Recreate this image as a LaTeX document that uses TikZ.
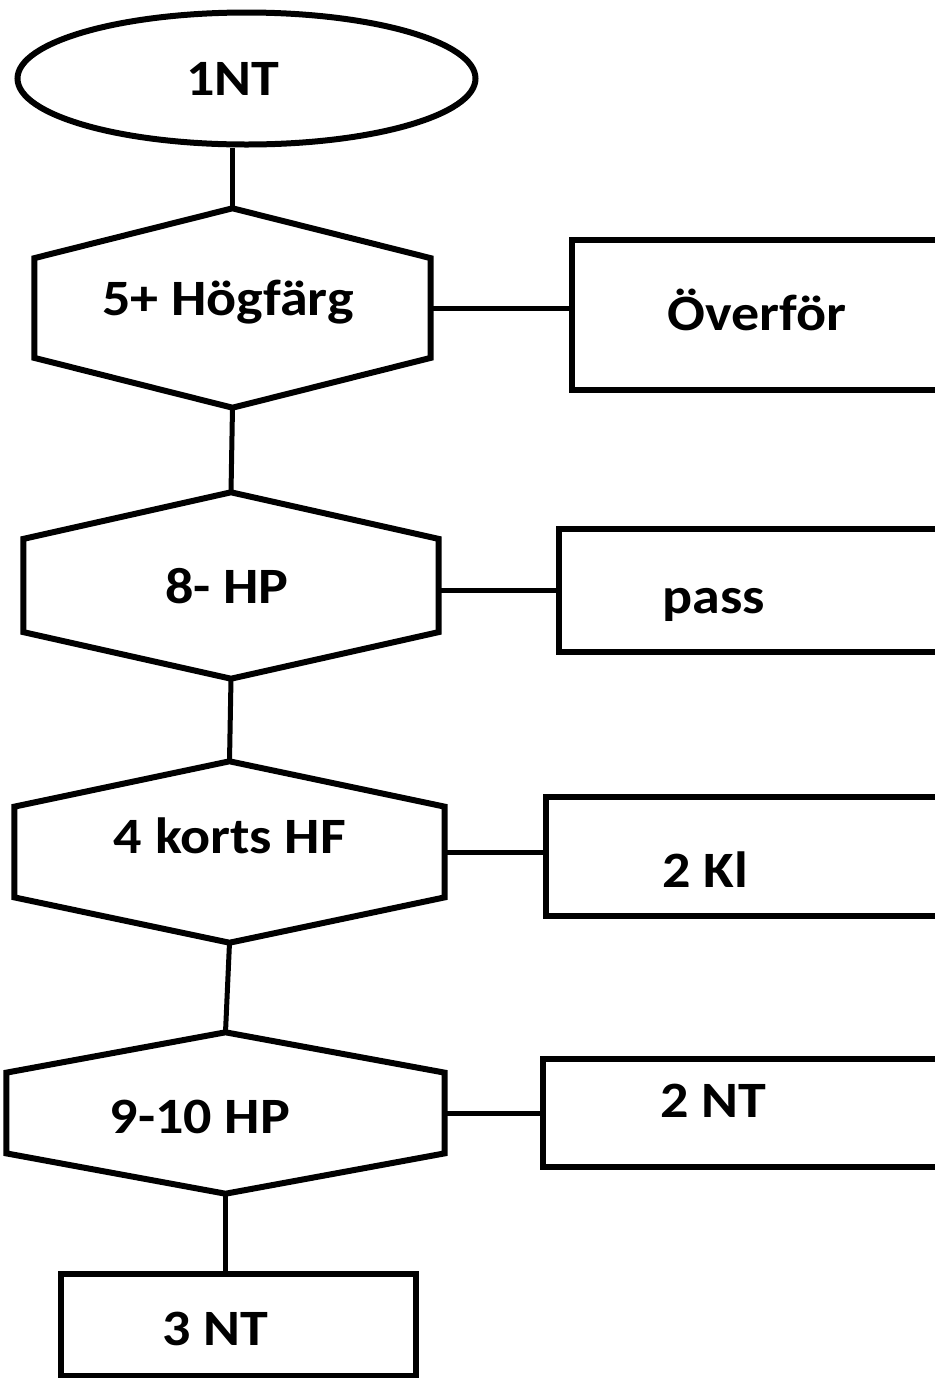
\documentclass[tikz,border=0pt]{standalone}
\usepackage{fontspec}
\setmainfont{Carlito}[FakeStretch=1.1]
\usetikzlibrary{positioning,calc,shapes.geometric}
\newcommand{\hexpath}[1]{%
  \draw[shp] (#1.north) -- ($(#1.north east)!0.25!(#1.south east)$)
    -- ($(#1.north east)!0.75!(#1.south east)$) -- (#1.south)
    -- ($(#1.north west)!0.75!(#1.south west)$)
    -- ($(#1.north west)!0.25!(#1.south west)$) -- cycle;}
\tikzset{
  shp/.style={line width=0.6mm, line join=miter},
  hexa/.style={rectangle, inner sep=0pt},
  oval/.style={ellipse, draw, line width=0.6mm, inner sep=0pt},
  bbox/.style={rectangle, draw, line width=0.65mm, inner sep=0pt},
  lbl/.style={font=\bfseries\fontsize{14.5}{16}\selectfont, anchor=base, inner sep=0pt},
  cn/.style={line width=0.5mm},
}

\begin{document}
\begin{tikzpicture}[x=0.1mm,y=-0.1mm]
\useasboundingbox (0,0) rectangle (935,1378);
% start
\node[oval, minimum width=45.8mm, minimum height=13.2mm] (e) at (246.5,78.5) {};
% questions
\node[hexa, minimum width=39.5mm, minimum height=19.8mm] (h1) at (232.5,308) {};
\node[hexa, minimum width=41.4mm, minimum height=18.5mm] (h2) at (231,585.5) {};
\node[hexa, minimum width=42.9mm, minimum height=18mm] (h3) at (229.5,852) {};
\node[hexa, minimum width=43.7mm, minimum height=16mm] (h4) at (225.5,1113) {};
\hexpath{h1} \hexpath{h2} \hexpath{h3} \hexpath{h4}
% answers
\node[bbox, minimum width=38.8mm, minimum height=15mm] (b1) at (766,315) {};
\node[bbox, minimum width=40.1mm, minimum height=12.3mm] (b2) at (759.5,590.5) {};
\node[bbox, minimum width=41.4mm, minimum height=11.9mm] (b3) at (753,856.5) {};
\node[bbox, minimum width=41.7mm, minimum height=10.8mm] (b4) at (751.5,1113) {};
\node[bbox, minimum width=35.5mm, minimum height=10.2mm] (b5) at (238.5,1325) {};
% texts
\node[lbl] (t0) at (233,95) {1NT};
\node[lbl] (t1) at (228,315) {5+ Högfärg};
\node[lbl] (t2) at (757,330) {Överför};
\node[lbl] (t3) at (227,603) {8- HP};
\node[lbl] (t4) at (714,613) {pass};
\node[lbl] (t5) at (230,853) {4 korts HF};
\node[lbl] (t6) at (705,887) {2 Kl};
\node[lbl] (t7) at (200,1133) {9-10 HP};
\node[lbl] (t8) at (713,1117) {2 NT};
\node[lbl] (t9) at (215,1345) {3 NT};
% links
\draw[cn] (h1.north |- e.south) -- (h1.north);
\draw[cn] (h1.south) -- (h2.north);
\draw[cn] (h2.south) -- (h3.north);
\draw[cn] (h3.south) -- (h4.north);
\draw[cn] (h4.south) -- (h4.south |- b5.north);
\draw[cn] (h1.east) -- (h1.east -| b1.west);
\draw[cn] (b2.west -| h2.east) -- (b2.west);
\draw[cn] (h3.east) -- (h3.east -| b3.west);
\draw[cn] (h4.east) -- (b4.west);
\end{tikzpicture}
\end{document}
